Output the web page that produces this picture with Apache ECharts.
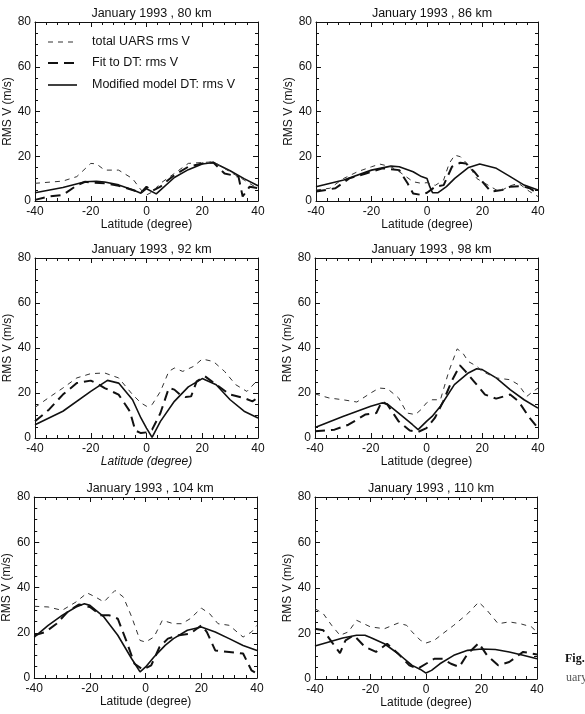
<!DOCTYPE html>
<html>
<head>
<meta charset="utf-8">
<script src="https://cdn.jsdelivr.net/npm/echarts@6/dist/echarts.min.js"></script>
<style>html,body{margin:0;padding:0;background:#fff;}#c{width:585px;height:714px;}</style>
</head>
<body>
<div id="c"></div>
<script>
// ---------- Data ----------
const panelTitles = ['January 1993 , 80 km','January 1993 , 86 km','January 1993 , 92 km','January 1993 , 98 km','January 1993 , 104 km','January 1993 , 110 km'];
const seriesNames = ['total UARS rms V','Fit to DT: rms V','Modified model DT: rms V'];
const xTicks = [-40,-20,0,20,40];
const yTicks = [0,20,40,60,80];

// 80 km
const lat80Total = [-40,-30,-25,-20,-18,-15,-10,-5,-2,0,2,5,10,15,20,24,30,35,40];
const val80Total = [7.9,8.9,10.9,16.8,16.6,13.8,13.8,10,5,2.7,4,7.9,12.3,16.8,17.2,17.5,13,9.4,5.5];
const lat80Fit = [-40,-35,-30,-25,-22,-20,-15,-10,-5,-2,0,2,5,7,10,15,20,24,28,33,34.5,37,40];
const val80Fit = [0.5,2,2.7,7,8.6,8.2,7.9,6.8,4.9,3.7,6.4,4.5,6.4,8.6,11.6,15.3,16.8,17.2,12.3,10.9,2,6.4,5.7];
const lat80Model = [-40,-30,-22,-18,-15,-10,-5,-2,0,3.5,10,15,20,24,30,35,40];
const val80Model = [3.7,6,8.6,8.8,8.5,7.2,5,3.5,5.5,3.2,10.5,14,16.5,17.2,13.5,10,6.8];

// 86 km
const lat86Total = [-40,-35,-30,-25,-20,-17,-13,-10,-5,-2,0,3,6,8,10,12,15,18,22,26,30,33,37,40];
const val86Total = [4.9,5.7,10.1,13.1,15.3,16.5,15.3,13.1,8.6,7.9,8.2,7,9.4,16.8,20.5,19.8,16,10,7.1,4.2,6.8,7.9,4.2,2];
const lat86Fit = [-40,-33,-28,-22,-16,-10,-7,-5,-2,0,3,6,9,12,14,17,20,23,27,30,34,37,40];
const val86Fit = [4.2,5.7,10.1,12.3,14.6,13.8,7.9,3.4,2.7,3.7,6.4,7.1,15.3,17.1,16.8,13.1,8.6,4.2,4.9,6.4,6.7,5.7,3.4];
const lat86Model = [-40,-30,-20,-13,-10,-5,-2,0,1,2,4,7,10,15,19,25,30,35,40];
const val86Model = [6.4,9.4,13.8,15.6,15.3,13.1,10.9,10.1,6.4,3.7,3.7,6.4,10.1,15,16.5,14.6,10.9,7.1,4.9];

// 92 km
const lat92Total = [-40,-35,-30,-25,-20,-15,-10,-5,-2,0,2,5,8,10,13,17,20,24,28,32,36,39,40];
const val92Total = [13.6,18,22.2,26.7,28.6,28.9,26.7,19.3,15.6,14.1,14.8,20.7,29.6,31.1,29.6,31.9,35.1,34,29.6,23.7,20.7,24.6,23.5];
const lat92Fit = [-40,-35,-30,-25,-20,-18,-15,-10,-6,-4,-2,0,2,5,8,10,12,14,16,18,21,25,30,35,38,40];
const val92Fit = [7.4,12.6,19.3,24.4,25.5,24.4,22.2,19.3,11.9,3.3,2.2,2.5,3.7,11.1,22.2,21.5,19.3,18.2,18.5,25.2,27.4,23.7,19.3,17.8,16.3,18];
const lat92Model = [-40,-30,-20,-14,-10,-5,-2,0,2,5,10,15,20,25,30,35,40];
const val92Model = [5.9,11.9,20.7,25.6,24.4,17,8.9,4.4,0.3,7.4,16.3,22.7,26.4,23.7,17,11.9,8.9];

// 98 km
const lat98Total = [-40,-35,-30,-25,-20,-17,-14,-10,-7,-4,-2,0,2,5,8,11,13,15,18,20,25,30,33,36,38,40];
const val98Total = [19.6,17.8,17,16,20,22.2,21.9,17.8,11.1,10.4,12.6,15.6,17,17,29.6,39.6,37.8,34,31.9,29.6,26.7,25.9,23.7,18.5,20.5,22.2];
const lat98Fit = [-40,-33,-28,-22,-18,-16,-14,-10,-6,-3,0,3,6,9,12,14,17,21,25,30,33,37,40];
const val98Fit = [3,3.7,5.9,10.4,11.1,16.3,14.8,7.4,3.3,2.7,4.4,8.9,16.3,25.2,32.3,29.6,25.2,19.3,17.5,19.3,16.3,8.9,4.4];
const lat98Model = [-40,-30,-20,-16,-14,-10,-5,-3,0,2,5,10,15,18,20,25,30,35,40];
const val98Model = [4.7,9.6,14.1,15.6,15.1,11.1,5.9,3.7,7.4,9.6,14.1,23.7,28.9,30.8,30.4,26.7,21.5,17,13.3];

// 104 km
const lat104Total = [-40,-35,-30,-25,-21,-18,-15,-11,-8,-5,-2,0,3,6,10,13,16,20,23,26,30,35,38,40];
const val104Total = [31.7,31.4,29.9,33.6,37.6,35.8,33.6,38.7,35.8,27,16.6,15.9,18.1,25.5,24,24,26.2,30.9,28.4,24,23.3,18.1,20.3,23.3];
const lat104Fit = [-40,-36,-32,-28,-24,-20,-16,-13,-10,-7,-4,-1,2,5,8,12,16,20,22,25,30,35,38,40];
const val104Fit = [18.9,20.3,24,29.2,32.5,31.4,27.7,27.7,26.2,16.6,6.3,3.7,5.6,13.7,17.4,18.9,19.6,23.3,20.3,12.2,11.5,10.8,3.4,1.9];
const lat104Model = [-40,-35,-30,-25,-22,-20,-15,-10,-5,-2,0,3,7,10,15,20,25,30,35,40];
const val104Model = [18.1,23.3,27.7,31.4,32.8,32.1,27,18.9,8.5,2.7,4.9,9.3,14.4,17.4,21.1,22.5,20.3,17.4,14.4,12.2];

// 110 km
const lat110Total = [-40,-37,-34,-31,-28,-25,-20,-15,-10,-7,-5,-2,0,3,6,10,15,19,22,26,30,34,38,40];
const val110Total = [30.9,28.7,23.6,19.2,20.7,25.8,22.9,22.1,24.6,23.6,20.7,17,15.8,17,19.9,23.6,28.7,33.8,30.2,24.3,25.1,24.3,22.9,20.7];
const lat110Fit = [-40,-37,-34,-31,-29,-26,-22,-18,-14,-10,-6,-3,0,3,6,9,12,15,19,22,26,30,35,40];
const val110Fit = [22.1,21.4,16.3,11.4,17,19.2,14.1,11.9,15.5,11.1,6,4.5,6.7,8.9,8.9,6.7,5.3,11.1,15.8,10.4,6,7.5,11.9,10.8];
const lat110Model = [-40,-35,-30,-25,-22,-20,-15,-10,-5,-2,0,2,5,10,15,20,25,30,35,40];
const val110Model = [14.5,16.3,18,19.2,19.2,18.2,15.5,11.1,6,4.2,2.6,3.8,6.7,10.4,12.6,13.2,13,11.9,10.4,8.9];

const panels = [
  [[lat80Total,val80Total],[lat80Fit,val80Fit],[lat80Model,val80Model]],
  [[lat86Total,val86Total],[lat86Fit,val86Fit],[lat86Model,val86Model]],
  [[lat92Total,val92Total],[lat92Fit,val92Fit],[lat92Model,val92Model]],
  [[lat98Total,val98Total],[lat98Fit,val98Fit],[lat98Model,val98Model]],
  [[lat104Total,val104Total],[lat104Fit,val104Fit],[lat104Model,val104Model]],
  [[lat110Total,val110Total],[lat110Fit,val110Fit],[lat110Model,val110Model]]
];

// ---------- Layout / styles ----------
const FONT = '"Liberation Sans", Arial, sans-serif';
const grids = [
  {left:35, top:22, width:223, height:179},
  {left:316, top:22, width:222, height:179},
  {left:35, top:258, width:223, height:180},
  {left:315, top:258, width:223, height:180},
  {left:33, top:497, width:224, height:181},
  {left:315, top:497, width:222, height:182}
];
const lineStyles = [
  {color:'#333', width:1, type:[5,5]},
  {color:'#111', width:2, type:[10,6]},
  {color:'#111', width:1.6, type:'solid'}
];

const xAxes = [], yAxes = [], series = [], titles = [];
grids.forEach((g, i) => {
  const common = {
    gridIndex: i, type: 'value',
    axisLine: {show: true, onZero: false, lineStyle: {color: '#111', width: 1}},
    axisTick: {show: true, inside: true, length: 5, lineStyle: {color: '#111'}},
    splitLine: {show: false}
  };
  xAxes.push(Object.assign({}, common, {
    min: xTicks[0], max: xTicks[xTicks.length-1], interval: 20, position: 'bottom',
    minorTick: {show: true, splitNumber: 5, length: 3, lineStyle: {color: '#111'}},
    axisLabel: {fontFamily: FONT, fontSize: 12, color: '#111', margin: 5},
    name: 'Latitude (degree)', nameLocation: 'middle', nameGap: 18,
    nameTextStyle: {fontFamily: FONT, fontSize: 12, color: '#111', fontStyle: i === 2 ? 'italic' : 'normal'}
  }));
  xAxes.push(Object.assign({}, common, {
    min: xTicks[0], max: xTicks[xTicks.length-1], interval: 20, position: 'top',
    minorTick: {show: true, splitNumber: 5, length: 3, lineStyle: {color: '#111'}},
    axisLabel: {show: false}
  }));
  yAxes.push(Object.assign({}, common, {
    min: yTicks[0], max: yTicks[yTicks.length-1], interval: 20, position: 'left',
    minorTick: {show: true, splitNumber: 4, length: 3, lineStyle: {color: '#111'}},
    axisLabel: {fontFamily: FONT, fontSize: 12, color: '#111', margin: 4},
    name: 'RMS V (m/s)', nameLocation: 'middle', nameGap: 17,
    nameTextStyle: {fontFamily: FONT, fontSize: 12, color: '#111'}
  }));
  yAxes.push(Object.assign({}, common, {
    min: yTicks[0], max: yTicks[yTicks.length-1], interval: 20, position: 'right',
    minorTick: {show: true, splitNumber: 4, length: 3, lineStyle: {color: '#111'}},
    axisLabel: {show: false}
  }));
  titles.push({
    text: panelTitles[i], left: g.left + g.width/2, top: g.top - 20, textAlign: 'center',
    textStyle: {fontFamily: FONT, fontSize: 12.5, fontWeight: 'normal', color: '#111'}
  });
  panels[i].forEach((pair, k) => {
    series.push({
      name: seriesNames[k], type: 'line', xAxisIndex: 2*i, yAxisIndex: 2*i,
      data: pair[0].map((x, j) => [x, pair[1][j]]),
      symbol: 'none', lineStyle: lineStyles[k], itemStyle: {color: lineStyles[k].color},
      silent: true, animation: false, z: 3 - k
    });
  });
});

// legend drawn as graphic (line samples + text) inside the first panel
const legendGraphic = [];
const legendY = [42, 63, 85];
seriesNames.forEach((name, k) => {
  const ls = lineStyles[k];
  legendGraphic.push({
    type: 'line', shape: {x1: 48, y1: legendY[k], x2: 77, y2: legendY[k]},
    style: {stroke: ls.color, lineWidth: ls.width, lineDash: Array.isArray(ls.type) ? ls.type : null}
  });
  legendGraphic.push({
    type: 'text', left: 92, top: legendY[k] - 7,
    style: {text: name, font: '12.5px ' + FONT, fill: '#111'}
  });
});

const chart = echarts.init(document.getElementById('c'), null, {renderer: 'canvas'});
chart.setOption({
  backgroundColor: '#fff',
  animation: false,
  title: titles,
  grid: grids,
  xAxis: xAxes,
  yAxis: yAxes,
  series: series,
  graphic: legendGraphic.concat([
    {type: 'text', left: 565, top: 653, style: {text: 'Fig.', font: 'bold 12px "Liberation Serif", serif', fill: '#111'}},
    {type: 'text', left: 566, top: 672, style: {text: 'uary', font: '12px "Liberation Serif", serif', fill: '#555'}}
  ])
});
</script>
</body>
</html>
